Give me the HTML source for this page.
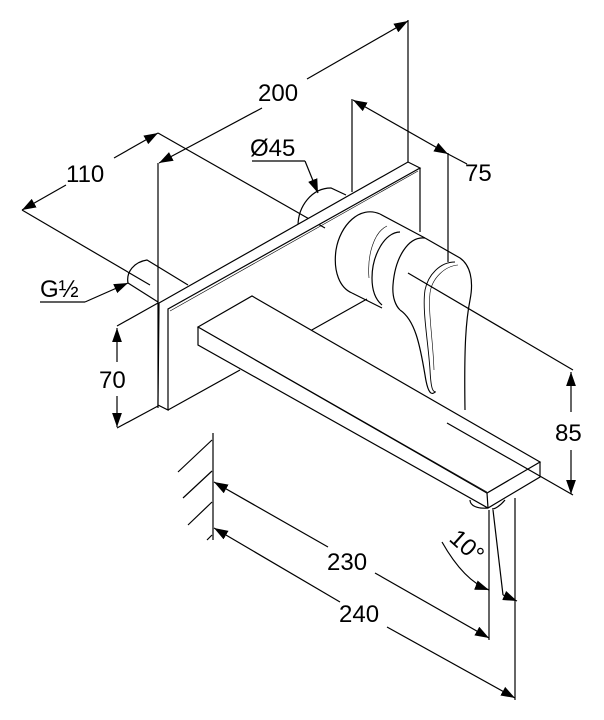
<!DOCTYPE html>
<html><head><meta charset="utf-8"><style>
html,body{margin:0;padding:0;background:#fff;}
svg{display:block;}
text{font-family:"Liberation Sans",sans-serif;font-size:24px;fill:#000;}
</style></head><body>
<svg width="604" height="720" viewBox="0 0 604 720" xmlns="http://www.w3.org/2000/svg">
<defs>
<marker id="a" viewBox="0 0 10 10" refX="10" refY="5" markerWidth="14" markerHeight="14" markerUnits="userSpaceOnUse" orient="auto-start-reverse"><path d="M0,1.5 L10,5 L0,8.5 z" fill="#000"/></marker>
</defs>
<g fill="none" stroke="#000" stroke-width="1.2">
<line x1="408" y1="20" x2="408" y2="162"/>
<line x1="158" y1="163" x2="158" y2="408"/>
<line x1="159" y1="163" x2="262" y2="108" marker-start="url(#a)"/>
<line x1="307" y1="79" x2="408" y2="21" marker-end="url(#a)"/>
<path d="M298,226 C298,206 312,188 331,188 L346,195"/>
<line x1="22" y1="210" x2="66" y2="185" marker-start="url(#a)"/>
<line x1="114" y1="158" x2="158" y2="133" marker-end="url(#a)"/>
<line x1="22" y1="210" x2="150" y2="285"/>
<line x1="158" y1="133" x2="325" y2="228"/>
<line x1="352" y1="99" x2="352" y2="192"/>
<line x1="448" y1="153" x2="448" y2="262"/>
<line x1="353" y1="100" x2="448" y2="154" marker-start="url(#a)" marker-end="url(#a)"/>
<line x1="448" y1="154" x2="467" y2="164"/>
<polyline points="252,161 305,161"/>
<line x1="305" y1="161" x2="318" y2="193" marker-end="url(#a)"/>
<polyline points="40,302 85,302"/>
<line x1="85" y1="302" x2="128" y2="283" marker-end="url(#a)"/>
<path d="M128,283 C126,272 134,262 147,260 L188,285"/>
<line x1="128" y1="283" x2="158" y2="302"/>
<polygon points="159,303 408,162 420,168 168,309 168,410 158,405" fill="#fff"/>
<line x1="170" y1="311" x2="418" y2="171" stroke-width="0.6"/>
<line x1="420" y1="168" x2="420" y2="232"/>
<line x1="168" y1="410" x2="240" y2="370"/>
<line x1="310" y1="331" x2="367" y2="299"/>
<line x1="117" y1="326" x2="158" y2="303"/>
<line x1="117" y1="428" x2="158" y2="406"/>
<line x1="117" y1="328" x2="117" y2="362" marker-start="url(#a)"/>
<line x1="117" y1="396" x2="117" y2="427" marker-end="url(#a)"/>
<path d="M380,214 C360,205 340,225 336,250 C333,272 340,288 352,293" fill="#fff"/>
<path d="M380,214 L425,238"/>
<path d="M352,293 L382,308"/>
<path d="M400,232 C385,232 372,255 372,278 C372,292 376,300 382,305"/>
<path d="M425,238 C408,236 395,258 393,285 C392,298 396,306 400,310"/>
<path d="M387,226 C374,232 367,255 369,278" stroke-width="0.6"/>
<path d="M400,310 C415,320 420,345 425,375 C428,395 432,395 435,392"/>
<path d="M425,238 L460,258 C470,265 474,280 470,300 C466,320 464,345 465,410"/>
<path d="M455,262 C440,262 428,275 425,290 C422,310 428,340 430,370 C431,390 433,392 436,392" stroke-width="0.9"/>
<path d="M458,265 C445,266 432,278 430,293 C428,312 433,340 434,370" stroke-width="0.6"/>
<line x1="408" y1="273" x2="573" y2="370"/>
<polygon points="198,327 252,296 540,462 487,493" fill="#fff"/>
<line x1="200" y1="328" x2="487" y2="492" stroke-width="0.6"/>
<polyline points="198,327 198,345 488,508 540,477 540,462"/>
<line x1="487" y1="493" x2="488" y2="508"/>
<path d="M470,500 C470,506 478,509 488,508"/>
<path d="M505,500 C500,506 495,509 492,509"/>
<line x1="447" y1="423" x2="573" y2="495"/>
<line x1="571" y1="372" x2="571" y2="412" marker-start="url(#a)"/>
<line x1="571" y1="450" x2="571" y2="494" marker-end="url(#a)"/>
<line x1="213" y1="433" x2="213" y2="540"/>
<line x1="178" y1="472" x2="212" y2="440"/>
<line x1="183" y1="498" x2="212" y2="471"/>
<line x1="188" y1="525" x2="212" y2="502"/>
<line x1="207" y1="540" x2="212" y2="535"/>
<line x1="214" y1="482" x2="328" y2="547" marker-start="url(#a)"/>
<line x1="375" y1="573" x2="489" y2="638" marker-end="url(#a)"/>
<line x1="214" y1="528" x2="340" y2="602" marker-start="url(#a)"/>
<line x1="387" y1="627" x2="515" y2="698" marker-end="url(#a)"/>
<line x1="489" y1="510" x2="489" y2="640"/>
<line x1="515" y1="498" x2="515" y2="700"/>
<line x1="493" y1="510" x2="503" y2="595"/>
<path d="M442,542 C455,565 470,583 489,590" marker-end="url(#a)"/>
<path d="M503,595 L517,601" marker-end="url(#a)"/>
</g>
<text x="258" y="101">200</text>
<text x="66" y="182">110</text>
<text x="465" y="181">75</text>
<text x="250" y="156">Ø45</text>
<text x="40" y="297">G½</text>
<text x="99" y="388">70</text>
<text x="555" y="441">85</text>
<text x="327" y="570">230</text>
<text x="339" y="622">240</text>
<text x="0" y="0" transform="translate(448,540) rotate(42)">10°</text>
</svg>
</body></html>
